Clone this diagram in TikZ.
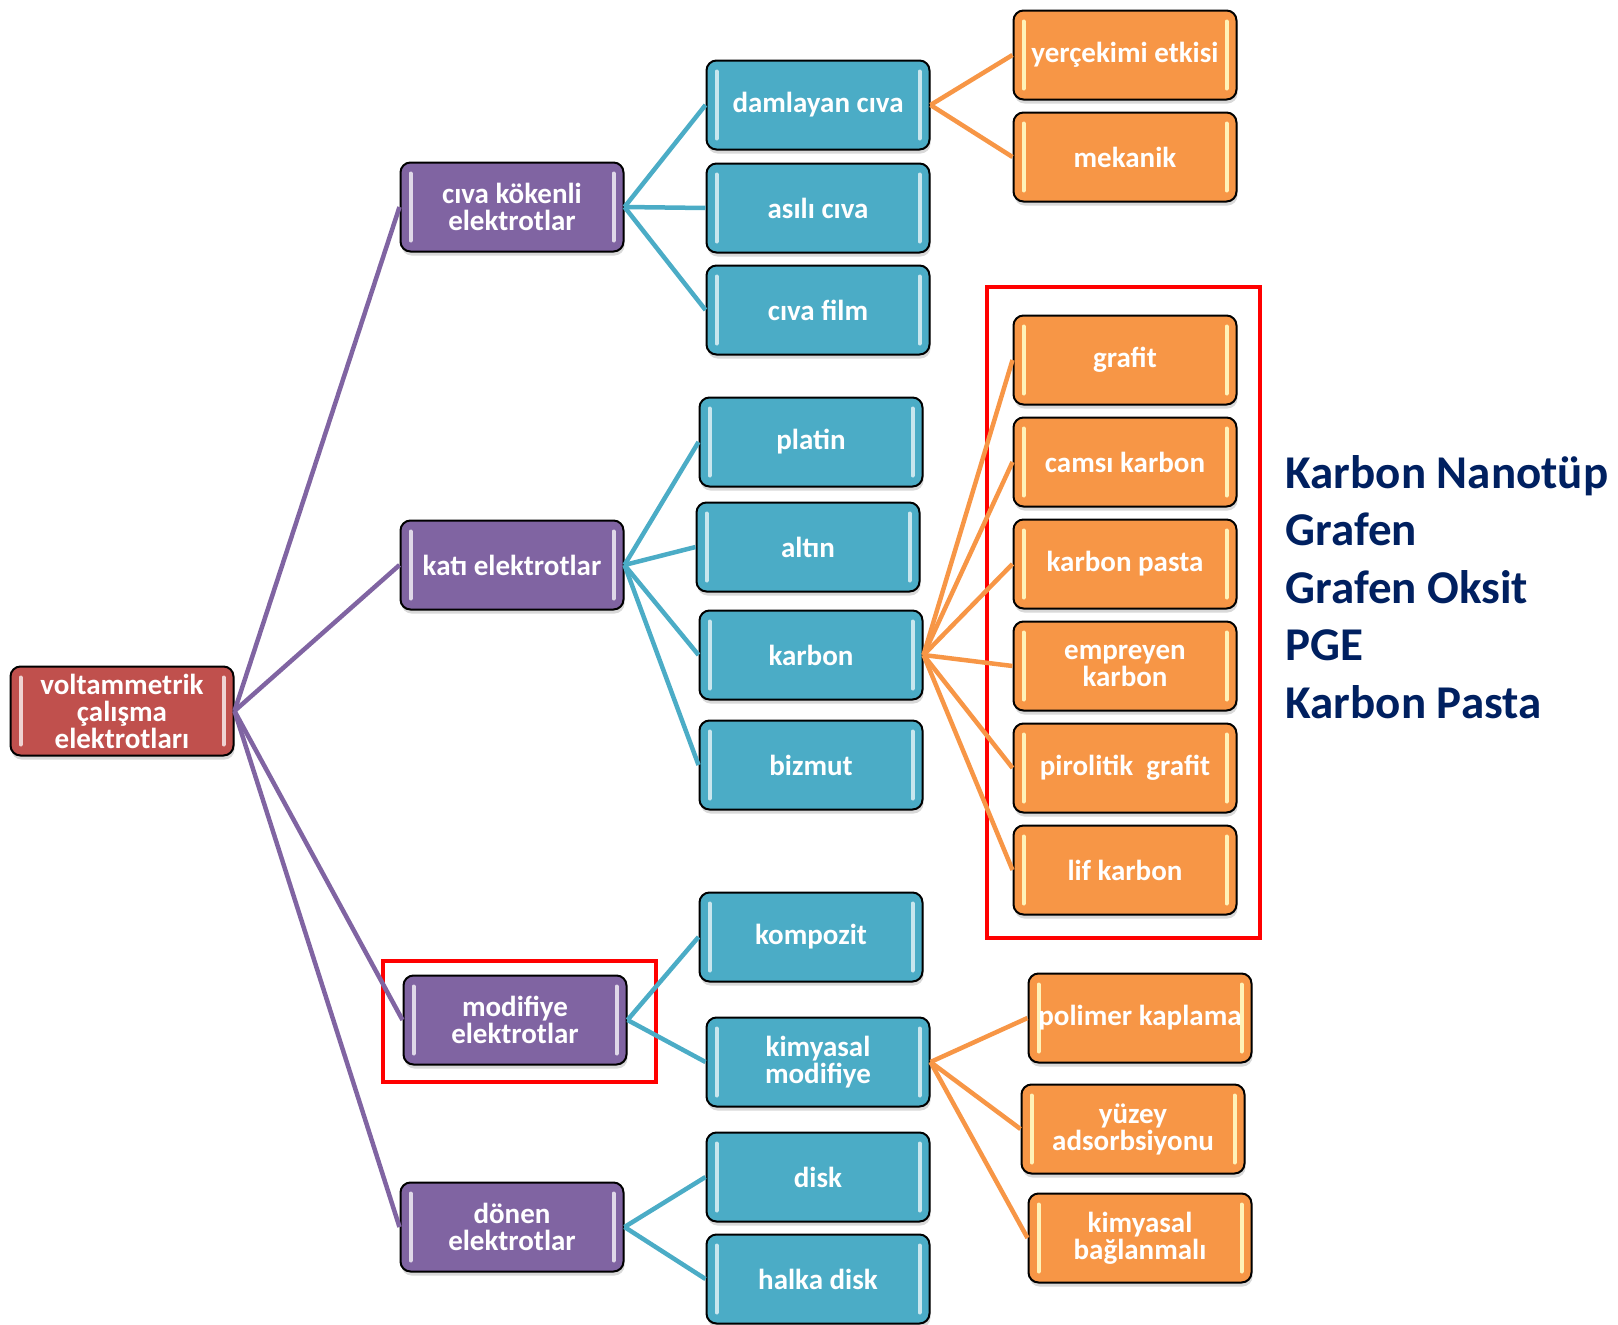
\documentclass[tikz,border=0pt]{standalone}
\usepackage{fontspec}
\setmainfont{Carlito}
\usepackage{tikz}
\usetikzlibrary{shapes,arrows,fit,positioning,shadows}
\definecolor{redbox}{HTML}{C0504D}
\definecolor{purplebox}{HTML}{8064A2}
\definecolor{bluebox}{HTML}{4BACC6}
\definecolor{orangebox}{HTML}{F79646}
\definecolor{navy}{HTML}{002060}
\definecolor{barorange}{HTML}{FFF2B8}

\begin{document}
\begin{tikzpicture}[x=1pt,y=-1pt,% one unit is one pixel of the slide
			every node/.style={
				align=center,  		% so that "\\" breaks the line
				font=\fontsize{29}{27}\selectfont\bfseries
			},
			box/.style={rectangle,rounded corners=10pt,draw=black,line width=2pt,
				text=white,inner sep=0pt,minimum width=223pt,minimum height=89pt,
				drop shadow={opacity=0.3,shadow xshift=1pt,shadow yshift=-4pt},
				path picture={% light bars left and right
					\draw[#1,line width=4pt,line cap=round]
					([xshift=10pt,yshift=-11pt]path picture bounding box.north west) -- ([xshift=10pt,yshift=11pt]path picture bounding box.south west)
					([xshift=-10pt,yshift=-11pt]path picture bounding box.north east) -- ([xshift=-10pt,yshift=11pt]path picture bounding box.south east);
				}},
			rootbox/.style={box=white!75!redbox,fill=redbox},
			purplebox/.style={box=white!75!purplebox,fill=purplebox},
			bluebox/.style={box=white!70!bluebox,fill=bluebox},
			orangebox/.style={box=barorange,fill=orangebox},
			pline/.style={draw=purplebox,line width=4.5pt},
			bline/.style={draw=bluebox,line width=4.5pt},
			oline/.style={draw=orangebox,line width=4.5pt},
			mark box/.style={draw=red,line width=4pt}
		]
		\useasboundingbox (0,0) rectangle (1618,1325);
		% root
		\node[rootbox](R) at (122,711){voltammetrik\\çalışma\\elektrotları};
		% second level
		\node[purplebox](P1) at (512,207){cıva kökenli\\elektrotlar};
		\node[purplebox](P2) at (512,565){katı elektrotlar};
		\node[purplebox](P3) at (515,1020){modifiye\\elektrotlar};
		\node[purplebox](P4) at (512,1227){dönen\\elektrotlar};
		% third level
		\node[bluebox](B1) at (818,105){damlayan cıva};
		\node[bluebox](B2) at (818,208){asılı cıva};
		\node[bluebox](B3) at (818,310){cıva film};
		\node[bluebox](B4) at (811,442){platin};
		\node[bluebox](B5) at (808,547){altın};
		\node[bluebox](B6) at (811,655){karbon};
		\node[bluebox](B7) at (811,765){bizmut};
		\node[bluebox](B8) at (811,937){kompozit};
		\node[bluebox](B9) at (818,1062){kimyasal\\modifiye};
		\node[bluebox](B10) at (818,1177){disk};
		\node[bluebox](B11) at (818,1279){halka disk};
		% fourth level
		\node[orangebox](O1) at (1125,55){yerçekimi etkisi};
		\node[orangebox](O2) at (1125,157){mekanik};
		\node[orangebox](O3) at (1125,360){grafit};
		\node[orangebox](O4) at (1125,462){camsı karbon};
		\node[orangebox](O5) at (1125,564){karbon pasta};
		\node[orangebox](O6) at (1125,666){empreyen\\karbon};
		\node[orangebox](O7) at (1125,768){pirolitik\ \ grafit};
		\node[orangebox](O8) at (1125,870){lif karbon};
		\node[orangebox](O9) at (1140,1018){polimer kaplama};
		\node[orangebox](O10) at (1133,1129){yüzey\\adsorbsiyonu};
		\node[orangebox](O11) at (1140,1238){kimyasal\\bağlanmalı};
		% note beside the carbon group
		\node[anchor=west,align=left,text=navy,font=\fontsize{47}{57.5}\selectfont\bfseries](N) at (1282,587)
			{Karbon Nanotüp\\Grafen\\Grafen Oksit\\PGE\\Karbon Pasta};
		% highlight frames
		\draw[mark box] (987,287) rectangle (1260,938);
		\draw[mark box] (383,961) rectangle (656,1082);
		% connectors
		\path[pline]
		(R.east) edge (P1.west)
		(R.east) edge (P2.west)
		(R.east) edge (P3.west)
		(R.east) edge (P4.west)
		;
		\path[bline]
		(P1.east) edge (B1.west)
		(P1.east) edge (B2.west)
		(P1.east) edge (B3.west)
		(P2.east) edge (B4.west)
		(P2.east) edge (B5.west)
		(P2.east) edge (B6.west)
		(P2.east) edge (B7.west)
		(P3.east) edge (B8.west)
		(P3.east) edge (B9.west)
		(P4.east) edge (B10.west)
		(P4.east) edge (B11.west)
		;
		\path[oline]
		(B1.east) edge (O1.west)
		(B1.east) edge (O2.west)
		(B6.east) edge (O3.west)
		(B6.east) edge (O4.west)
		(B6.east) edge (O5.west)
		(B6.east) edge (O6.west)
		(B6.east) edge (O7.west)
		(B6.east) edge (O8.west)
		(B9.east) edge (O9.west)
		(B9.east) edge (O10.west)
		(B9.east) edge (O11.west)
		;
	\end{tikzpicture}
\end{document}
